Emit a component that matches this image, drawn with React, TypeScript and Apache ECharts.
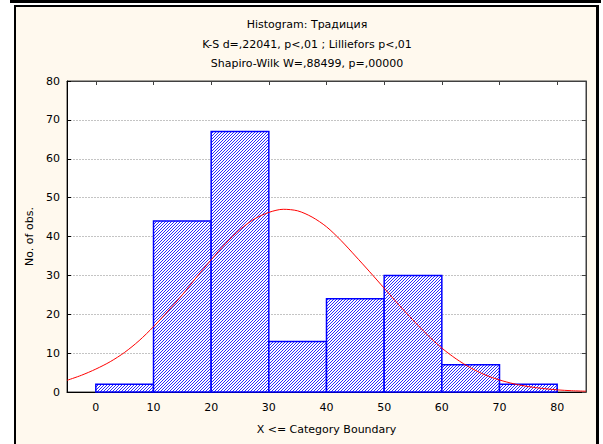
import React, { useEffect, useRef } from "react";
import * as echarts from "echarts";

const titleLines = [
  "Histogram: Традиция",
  "K-S d=,22041, p<,01 ; Lilliefors p<,01",
  "Shapiro-Wilk W=,88499, p=,00000",
];
const binStarts = [0, 10, 20, 30, 40, 50, 60, 70];
const binEnds = [10, 20, 30, 40, 50, 60, 70, 80];
const counts = [2, 44, 67, 13, 24, 30, 7, 2];
const curveX = [
  -5, -2.5, 0, 2.5, 5, 7.5, 10, 12.5, 15, 17.5, 20, 22.5, 25, 27.5, 30, 32.5, 35, 37.5, 40,
  42.5, 45, 47.5, 50, 52.5, 55, 57.5, 60, 62.5, 65, 67.5, 70, 72.5, 75, 77.5, 80, 82.5, 85,
];
const curveY = [
  3.0, 4.3, 5.9, 7.8, 10.2, 13.2, 16.8, 20.8, 25.0, 29.6, 34.0, 38.2, 41.8, 44.5, 46.2, 47.0, 46.6, 45.0, 42.5,
  39.0, 35.0, 30.9, 26.7, 22.5, 18.5, 14.7, 11.3, 8.5, 6.2, 4.4, 3.1, 2.1, 1.4, 0.9, 0.55, 0.33, 0.2,
];
const xTickValues = [0, 10, 20, 30, 40, 50, 60, 70, 80];
const xMin = -5;
const xMax = 85;
const yMin = 0;
const yMax = 80;
const yStep = 10;
const xAxisName = "X <= Category Boundary";
const yAxisName = "No. of obs.";

const FONT = "'DejaVu Sans', 'Liberation Sans', sans-serif";
const HATCH_PITCH = 3;

export default function App() {
  const ref = useRef<HTMLDivElement>(null);
  useEffect(() => {
    document.body.style.margin = "0";
    if (!ref.current) return;
    const chart = echarts.init(ref.current, undefined, { renderer: "svg" });

    const titleY = [24, 44, 63];

    const option: any = {
      animation: false,
      backgroundColor: "#ffffff",
      textStyle: { fontFamily: FONT },
      graphic: [
        {
          type: "polyline",
          z: -10,
          shape: { points: [[11.5, -5], [11.5, 1.5], [599.5, 1.5], [599.5, -5]] },
          style: { stroke: "#000", lineWidth: 3, fill: null },
        },
        {
          type: "rect",
          z: -10,
          shape: { x: 15, y: 6, width: 582, height: 460 },
          style: { fill: "#fff9ee", stroke: "#000", lineWidth: 2 },
        },
        {
          type: "line",
          z: -9,
          shape: { x1: 597.5, y1: 5, x2: 597.5, y2: 450 },
          style: { stroke: "#000", lineWidth: 3 },
        },
        ...titleLines.map((t, i) => ({
          type: "text",
          z: 10,
          x: 307,
          y: titleY[i],
          style: {
            text: t,
            fill: "#000",
            font: `11px ${FONT}`,
            align: "center",
            verticalAlign: "middle",
          },
        })),
      ],
      grid: {
        left: 67,
        top: 81,
        right: 17,
        bottom: 52,
        show: true,
        backgroundColor: "#ffffff",
        borderColor: "#404040",
        borderWidth: 1,
      },
      xAxis: [
        {
          type: "value",
          min: xMin,
          max: xMax,
          position: "bottom",
          axisLine: { show: true, onZero: false, lineStyle: { color: "#000", width: 1 } },
          axisTick: { show: true, inside: true, length: 4, customValues: xTickValues, lineStyle: { color: "#000" } },
          axisLabel: { show: true, customValues: xTickValues, margin: 10, fontSize: 11, color: "#000", fontFamily: FONT },
          splitLine: { show: false },
          name: xAxisName,
          nameLocation: "middle",
          nameGap: 32,
          nameTextStyle: { fontSize: 11, color: "#000", fontFamily: FONT },
        },
        {
          type: "value",
          min: xMin,
          max: xMax,
          position: "top",
          axisLine: { show: true, onZero: false, lineStyle: { color: "#404040", width: 1 } },
          axisTick: { show: true, inside: true, length: 4, customValues: xTickValues, lineStyle: { color: "#404040" } },
          axisLabel: { show: false },
          splitLine: { show: false },
        },
      ],
      yAxis: [
        {
          type: "value",
          min: yMin,
          max: yMax,
          interval: yStep,
          position: "left",
          axisLine: { show: true, onZero: false, lineStyle: { color: "#000", width: 1 } },
          axisTick: { show: true, inside: true, length: 4, lineStyle: { color: "#000" } },
          axisLabel: { margin: 7, fontSize: 11, color: "#000", fontFamily: FONT },
          splitLine: { show: true, lineStyle: { color: "#c4c4c4", type: [2, 1], width: 1 } },
          name: yAxisName,
          nameLocation: "middle",
          nameGap: 27,
          nameTextStyle: { fontSize: 11, color: "#000", fontFamily: FONT },
        },
        {
          type: "value",
          min: yMin,
          max: yMax,
          interval: yStep,
          position: "right",
          axisLine: { show: true, onZero: false, lineStyle: { color: "#404040", width: 1 } },
          axisTick: { show: true, inside: true, length: 4, lineStyle: { color: "#404040" } },
          axisLabel: { show: false },
          splitLine: { show: false },
        },
      ],
      series: [
        {
          type: "custom",
          xAxisIndex: 0,
          yAxisIndex: 0,
          z: 2,
          data: binStarts.map((s, i) => [s, binEnds[i], counts[i]]),
          encode: { x: [0, 1], y: 2 },
          renderItem: (params: any, api: any) => {
            const p0 = api.coord([api.value(0), api.value(2)]);
            const p1 = api.coord([api.value(1), 0]);
            const x0 = p0[0], y0 = p0[1], x1 = p1[0], y1 = p1[1];
            const children: any[] = [
              {
                type: "rect",
                shape: { x: x0, y: y0, width: x1 - x0, height: y1 - y0 },
                style: { fill: "#ffffff", stroke: null },
              },
            ];
            const cStart = Math.ceil((x0 + y0) / HATCH_PITCH) * HATCH_PITCH;
            for (let cc = cStart; cc <= x1 + y1; cc += HATCH_PITCH) {
              const xa = Math.max(x0, cc - y1);
              const xb = Math.min(x1, cc - y0);
              if (xb - xa <= 0.2) continue;
              children.push({
                type: "line",
                shape: { x1: xa, y1: cc - xa, x2: xb, y2: cc - xb },
                style: { stroke: "#2a2aff", lineWidth: 1 },
              });
            }
            children.push({
              type: "rect",
              shape: { x: x0, y: y0, width: x1 - x0, height: y1 - y0 },
              style: { fill: null, stroke: "#0000ff", lineWidth: 1.5 },
            });
            return { type: "group", children };
          },
        },
        {
          type: "line",
          xAxisIndex: 0,
          yAxisIndex: 0,
          z: 3,
          data: curveX.map((x, i) => [x, curveY[i]]),
          smooth: 0.3,
          showSymbol: false,
          symbol: "none",
          lineStyle: { color: "#ff0000", width: 1 },
        },
      ],
    };
    chart.setOption(option);
    return () => chart.dispose();
  }, []);
  return <div ref={ref} style={{ width: 603, height: 444 }} />;
}
